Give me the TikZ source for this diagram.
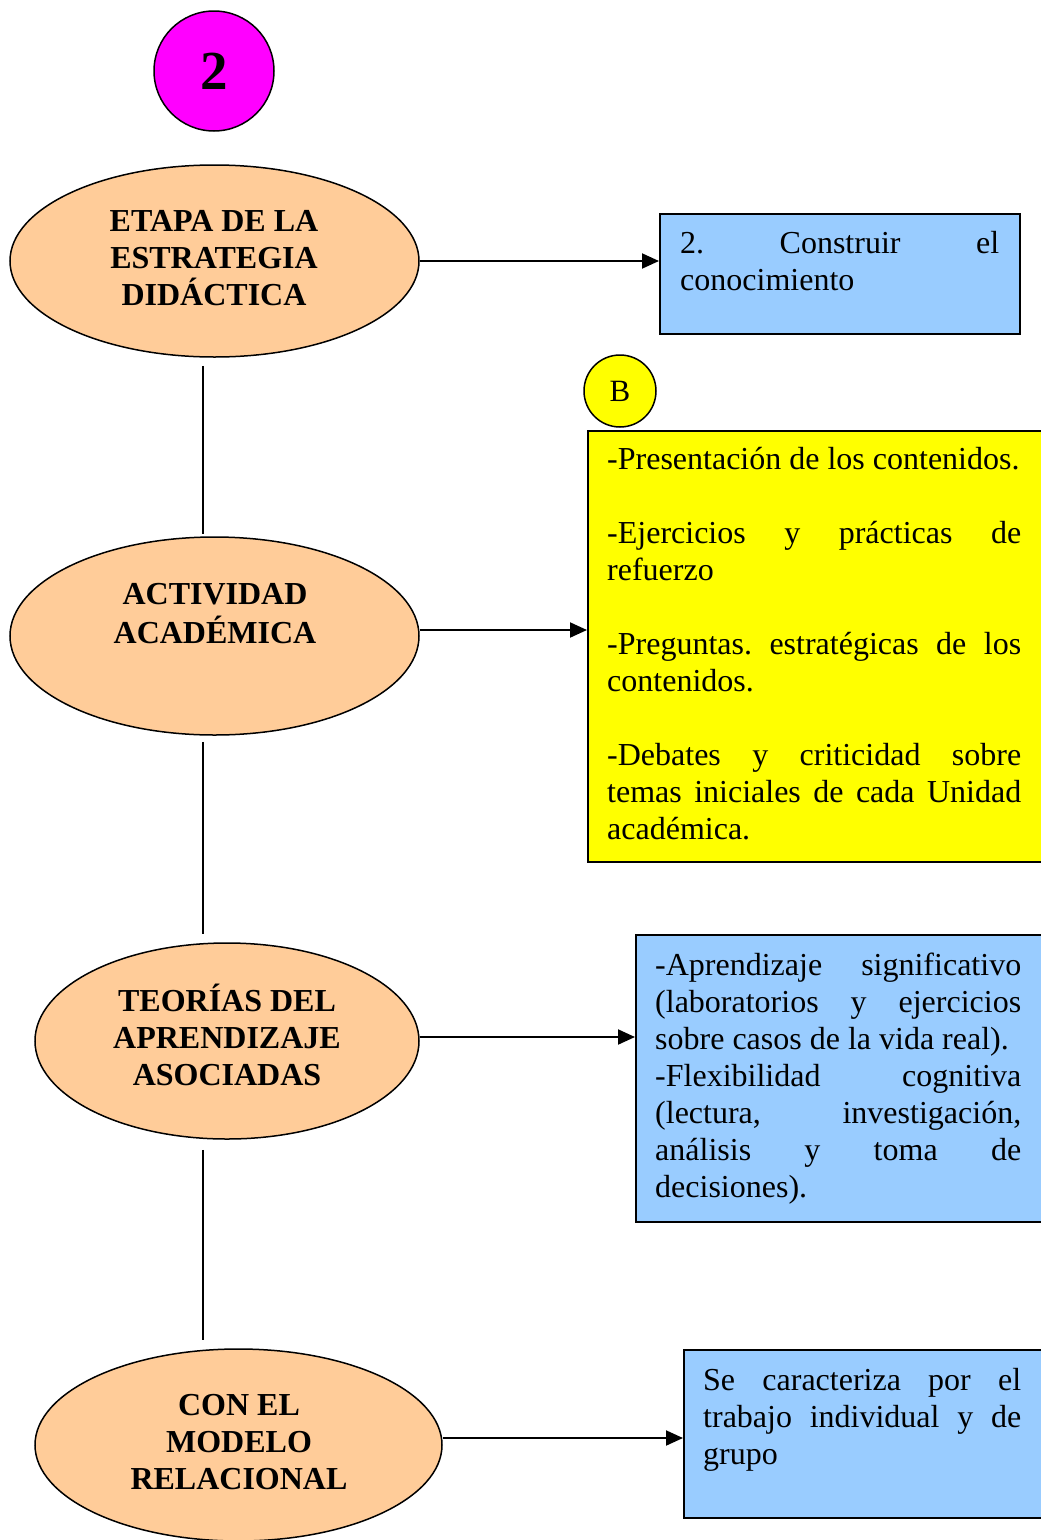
\documentclass[tikz,border=0pt]{standalone}
\usepackage{fontspec}
\setmainfont{Liberation Serif}
\usetikzlibrary{arrows.meta,shapes.geometric}

\definecolor{peach}{HTML}{FFCC99}
\definecolor{skyblue}{HTML}{99CCFF}
\definecolor{lemon}{HTML}{FFFF00}
\definecolor{pink}{HTML}{FF00FF}

\tikzset{
  stage/.style={ellipse, draw, fill=peach, line width=1.5pt, inner sep=0pt},
  infobox/.style={rectangle, draw, line width=1.5pt, inner sep=0pt, anchor=north west},
  badge/.style={circle, draw, line width=1.5pt, inner sep=0pt},
  bodytext/.style={inner sep=0pt, anchor=north west, align=justify,
    font=\fontsize{32}{37}\selectfont\frenchspacing},
  stagetext/.style={inner sep=0pt, anchor=north, align=center,
    font=\fontsize{32}{37}\selectfont\bfseries},
  link/.style={line width=2pt},
  flow/.style={line width=2pt, -{Triangle[length=17pt,width=15pt]}},
}

\begin{document}
\begin{tikzpicture}[x=1pt,y=-1pt]
\useasboundingbox (0,0) rectangle (1041,1540);
\clip (0,0) rectangle (1041,1540);
\hbadness=10000
\frenchspacing

\coordinate (spine) at (203,0);

% stage number
\node[badge, fill=pink, minimum size=120pt,
      font=\fontsize{55}{60}\selectfont\bfseries] (num) at (214,71) {2};

% stages on the left
\node[stage, minimum width=409pt, minimum height=192pt] (e1) at (214.5,261) {};
\node[stage, minimum width=409pt, minimum height=198pt] (e2) at (214.5,636) {};
\node[stage, minimum width=384pt, minimum height=196pt] (e3) at (227,1041) {};
\node[stage, minimum width=407pt, minimum height=192pt] (e4) at (238.5,1445) {};

\node[stagetext] (e1t) at (214,205.1) {\strut ETAPA DE LA\\ESTRATEGIA\\DIDÁCTICA};
\node[stagetext] (e2t) at (215,578.1) {\strut ACTIVIDAD\\ACADÉMICA};
\node[stagetext] (e3t) at (227,984.1) {\strut TEORÍAS DEL\\APRENDIZAJE\\ASOCIADAS};
\node[stagetext] (e4t) at (239,1389.1) {\strut CON EL\\MODELO\\RELACIONAL};

% description boxes
\node[infobox, fill=skyblue, minimum width=360pt, minimum height=120pt] (b1) at (659,213) {};
\node[infobox, fill=lemon, minimum width=470pt, minimum height=431pt] (yb) at (587,430) {};
\node[infobox, fill=skyblue, minimum width=420pt, minimum height=287pt] (b2) at (635,934) {};
\node[infobox, fill=skyblue, minimum width=370pt, minimum height=168pt] (b3) at (683,1349) {};

\node[badge, fill=lemon, minimum size=72pt,
      font=\fontsize{31}{36}\selectfont] (bb) at (620,391) {B};

\node[bodytext, text width=319pt] (b1t) at (680,227.1)
  {\strut 2. Construir el\linebreak conocimiento};

\node[bodytext, text width=414pt] (ybt) at (607,443.1)
  {\strut -Presentación de los contenidos.\par\vspace{37pt}
   -Ejercicios y prácticas de\linebreak refuerzo\par\vspace{37pt}
   -Preguntas. estratégicas de los\linebreak contenidos.\par\vspace{37pt}
   -Debates y criticidad sobre\linebreak temas iniciales de cada Unidad\linebreak académica.};

\node[bodytext, text width=366pt] (b2t) at (655,949.1)
  {\strut -Aprendizaje significativo\linebreak (laboratorios y ejercicios\linebreak
   sobre casos de la vida real).\par
   -Flexibilidad cognitiva\linebreak (lectura, investigación,\linebreak
   análisis y toma de\linebreak decisiones).};

\node[bodytext, text width=318pt] (b3t) at (703,1364.1)
  {\strut Se caracteriza por el\linebreak trabajo individual y de\linebreak grupo};

% vertical spine between stages
\draw[link] ([yshift=-8pt]e1.south -| spine) -- ([yshift=2pt]e2.north -| spine);
\draw[link] ([yshift=-6pt]e2.south -| spine) -- ([yshift=8pt]e3.north -| spine);
\draw[link] ([yshift=-10pt]e3.south -| spine) -- ([yshift=8pt]e4.north -| spine);

% arrows to the descriptions
\draw[flow] (e1.east) -- (e1.east -| b1.west);
\draw[flow] ([yshift=6pt]e2.east) -- ([yshift=6pt]e2.east -| yb.west);
\draw[flow] ([yshift=4pt]e3.east) -- ([yshift=4pt]e3.east -| b2.west);
\draw[flow] ([yshift=7pt]e4.east) -- ([yshift=7pt]e4.east -| b3.west);
\end{tikzpicture}
\end{document}
